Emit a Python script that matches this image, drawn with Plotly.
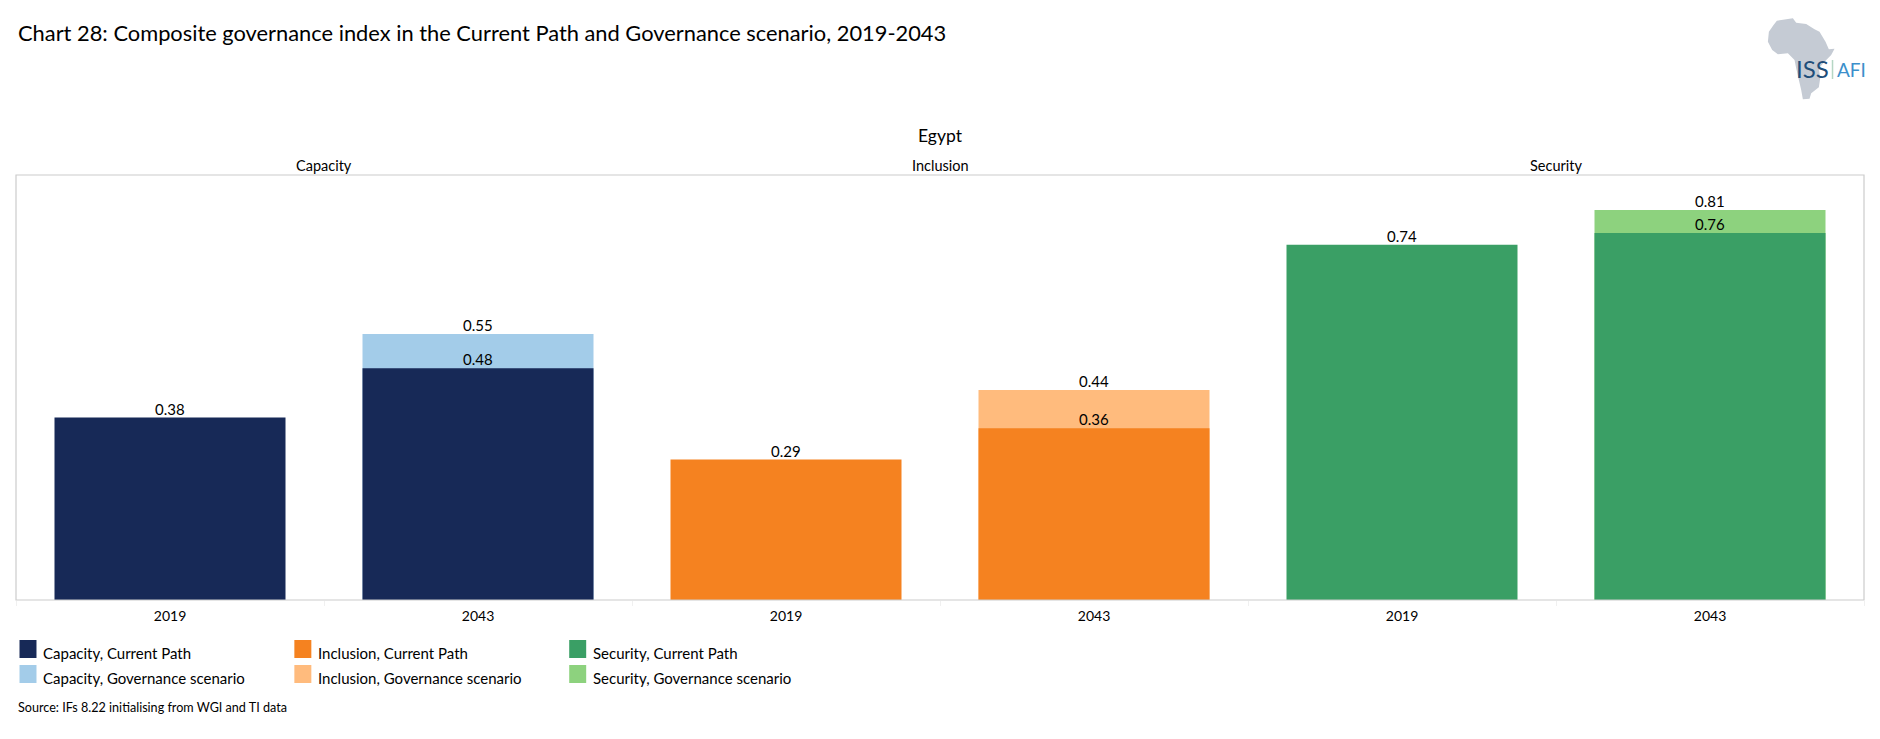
import plotly.graph_objects as go
from plotly.subplots import make_subplots

# Plotly's page keeps an 8px body margin, so the figure starts at (8, 8) in the window.
OFFSET = 8
W, H = 1880 - OFFSET, 739 - OFFSET
L, R, T, B = 15.5, 1864.5, 175, 600

title = "Chart 28: Composite governance index in the Current Path and Governance scenario, 2019-2043"
country = "Egypt"
source = "Source: IFs 8.22 initialising from WGI and TI data"
years = ["2019", "2043"]
panels = ["Capacity", "Inclusion", "Security"]
current_path = [[0.38, 0.4825], [0.2925, 0.3575], [0.74, 0.764]]
governance = [[None, 0.554], [None, 0.4375], [None, 0.812]]
current_colors = ["#172957", "#F58220", "#3A9F65"]
scenario_colors = ["#A3CCE9", "#FFBB7D", "#8DD27E"]
FONT = "Lato"


def px(x):
    return (x - L) / (R - L)


def py(y):
    return (B - y) / (B - T)


fig = make_subplots(rows=1, cols=3, shared_yaxes=True, horizontal_spacing=0)
annotations = []

for i, panel in enumerate(panels):
    col = i + 1
    suffix = "" if i == 0 else str(col)
    fig.add_trace(go.Bar(
        x=years, y=governance[i], name=f"{panel}, Governance scenario",
        marker=dict(color=scenario_colors[i], line_width=0), width=0.75, showlegend=False), row=1, col=col)
    fig.add_trace(go.Bar(
        x=years, y=current_path[i], name=f"{panel}, Current Path",
        marker=dict(color=current_colors[i], line_width=0), width=0.75, showlegend=False), row=1, col=col)
    fig.update_xaxes(type="category", categoryorder="array", categoryarray=years, range=[-0.5, 1.5],
                     tickson="boundaries", ticks="outside", ticklen=5, tickcolor="#F0F0F0", tickangle=0,
                     ticklabelstandoff=6, showgrid=False, showline=False, zeroline=False,
                     tickfont=dict(family=FONT, size=14, color="#000000"), row=1, col=col)
    for series in (current_path[i], governance[i]):
        for position, value in enumerate(series):
            if value is not None:
                # on a category axis an annotation's x is the category's position
                annotations.append(dict(text=f"{value:.2f}", x=position, y=value, xref=f"x{suffix}", yref="y",
                                        xanchor="center", yanchor="bottom", yshift=-2, showarrow=False,
                                        font=dict(family=FONT, size=15, color="#000000")))

fig.update_yaxes(range=[0, 0.885], visible=False)

texts = [
    dict(text=title, x=px(16), y=py(33), xanchor="left", font=dict(size=21.85)),
    dict(text=country, x=px(940), y=py(135.5), xanchor="center", font=dict(size=17.5)),
    dict(text=source, x=px(16), y=py(707), xanchor="left", font=dict(size=12.6)),
    dict(text="ISS", x=px(1813), y=py(69), xanchor="center", font=dict(size=24, color="#1F4E79")),
    dict(text="AFI", x=px(1851.5), y=py(69.5), xanchor="center", font=dict(size=19, color="#3B8FCB")),
]
for i, panel in enumerate(panels):
    texts.append(dict(text=panel, x=(i + 0.5) / 3, y=py(165), xanchor="center", font=dict(size=14.5)))

africa = [(232, 62), (280, 55), (290, 68), (320, 72), (345, 88), (360, 95), (378, 125), (388, 148), (405, 146),
          (395, 165), (375, 185), (358, 205), (362, 235), (358, 262), (335, 280), (330, 296), (310, 298),
          (305, 270), (298, 240), (290, 205), (285, 180), (265, 160), (235, 163), (218, 150), (205, 125),
          (208, 95), (222, 75)]
path = "M" + "L".join(f"{px(1700 + a / 3):.5f},{py(b / 3):.5f}" for a, b in africa) + "Z"

shapes = [
    dict(type="path", path=path, xref="paper", yref="paper", fillcolor="#C5CBD4", line_width=0, layer="below"),
    dict(type="line", xref="paper", yref="paper", x0=px(1833), x1=px(1833), y0=py(60), y1=py(79),
         line=dict(color="#B5D6C4", width=1.5)),
    dict(type="rect", xref="paper", yref="paper", x0=0, x1=1, y0=0, y1=1, line=dict(color="#CCCCCC", width=1.2)),
]

# Legend key: a swatch and a label per series, in the reference's 3x2 arrangement.
legend_columns = [19, 294, 569]
legend_rows = [640, 665]
for i, panel in enumerate(panels):
    entries = ((f"{panel}, Current Path", current_colors[i]), (f"{panel}, Governance scenario", scenario_colors[i]))
    for top, (name, color) in zip(legend_rows, entries):
        left = legend_columns[i]
        shapes.append(dict(type="rect", xref="paper", yref="paper", x0=px(left), x1=px(left + 17),
                           y0=py(top + 18), y1=py(top), fillcolor=color, line_width=0))
        texts.append(dict(text=name, x=px(left + 22), y=py(top + 13), xanchor="left", font=dict(size=15)))

for a in texts:
    a.update(xref="paper", yref="paper", showarrow=False, yanchor="middle")
    a["font"] = {"family": FONT, "color": "#000000", **a["font"]}
annotations.extend(texts)

fig.update_layout(
    width=W, height=H, autosize=False, barmode="overlay", showlegend=False,
    margin=dict(l=L - OFFSET, r=1880 - R, t=T - OFFSET, b=739 - B, pad=0, autoexpand=False),
    paper_bgcolor="#FFFFFF", plot_bgcolor="#FFFFFF",
    annotations=annotations, shapes=shapes,
)

fig.write_html("out.html")
